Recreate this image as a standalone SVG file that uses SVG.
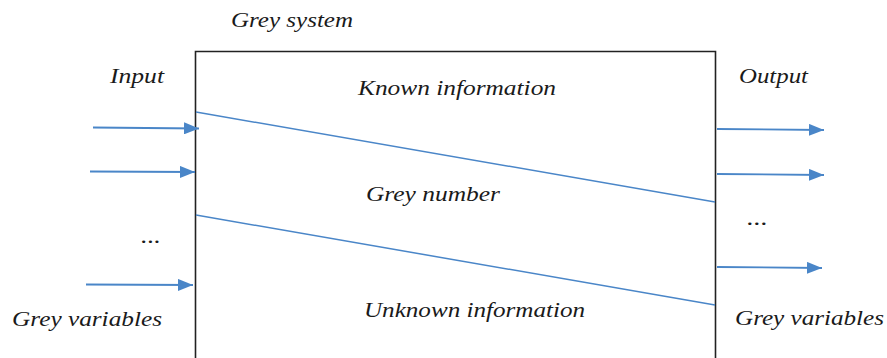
<svg xmlns="http://www.w3.org/2000/svg" width="887" height="358" viewBox="0 0 887 358">
<style>
text{font-family:"Liberation Serif","Times New Roman",serif;font-style:italic;font-size:20px;fill:#1a1a1a}
.ln{stroke:#4a86c8;stroke-width:1.5;fill:none}
.ar{stroke:#4a86c8;stroke-width:1.8;fill:none}
.box{stroke:#222;stroke-width:1.6;fill:#fff}
</style>
<defs>
<marker id="ah" viewBox="0 0 10 10" refX="10" refY="5" markerWidth="15" markerHeight="12" preserveAspectRatio="none" markerUnits="userSpaceOnUse" orient="auto">
<path d="M0,0 L10,5 L0,10 z" fill="#4a86c8"/>
</marker>
</defs>
<g id="system">
<path class="box" d="M195.5,362 V51.5 H715.5 V362"/>
<text x="231" y="27" textLength="122" lengthAdjust="spacingAndGlyphs">Grey system</text>
<line class="ln" x1="196" y1="112" x2="715" y2="202"/>
<line class="ln" x1="196" y1="215" x2="715" y2="305"/>
<text x="358" y="95" textLength="198" lengthAdjust="spacingAndGlyphs">Known information</text>
<text x="366" y="201" textLength="134" lengthAdjust="spacingAndGlyphs">Grey number</text>
<text x="364" y="317" textLength="221" lengthAdjust="spacingAndGlyphs">Unknown information</text>
</g>
<g id="input">
<text x="110" y="83" textLength="54" lengthAdjust="spacingAndGlyphs">Input</text>
<text x="141" y="243" textLength="20" lengthAdjust="spacingAndGlyphs">...</text>
<text x="12" y="326" textLength="150" lengthAdjust="spacingAndGlyphs">Grey variables</text>
</g>
<g id="output">
<text x="739" y="83" textLength="69" lengthAdjust="spacingAndGlyphs">Output</text>
<text x="747" y="225" textLength="21" lengthAdjust="spacingAndGlyphs">...</text>
<text x="735" y="325" textLength="149" lengthAdjust="spacingAndGlyphs">Grey variables</text>
</g>
<g id="connectors">
<line class="ar" x1="93" y1="127.5" x2="199" y2="128.5" marker-end="url(#ah)"/>
<line class="ar" x1="90" y1="171.5" x2="195" y2="172" marker-end="url(#ah)"/>
<line class="ar" x1="86" y1="284.5" x2="193" y2="285" marker-end="url(#ah)"/>
<line class="ar" x1="717" y1="129" x2="824" y2="130" marker-end="url(#ah)"/>
<line class="ar" x1="717" y1="174" x2="824" y2="175" marker-end="url(#ah)"/>
<line class="ar" x1="717" y1="267" x2="822" y2="268" marker-end="url(#ah)"/>
</g>
</svg>
